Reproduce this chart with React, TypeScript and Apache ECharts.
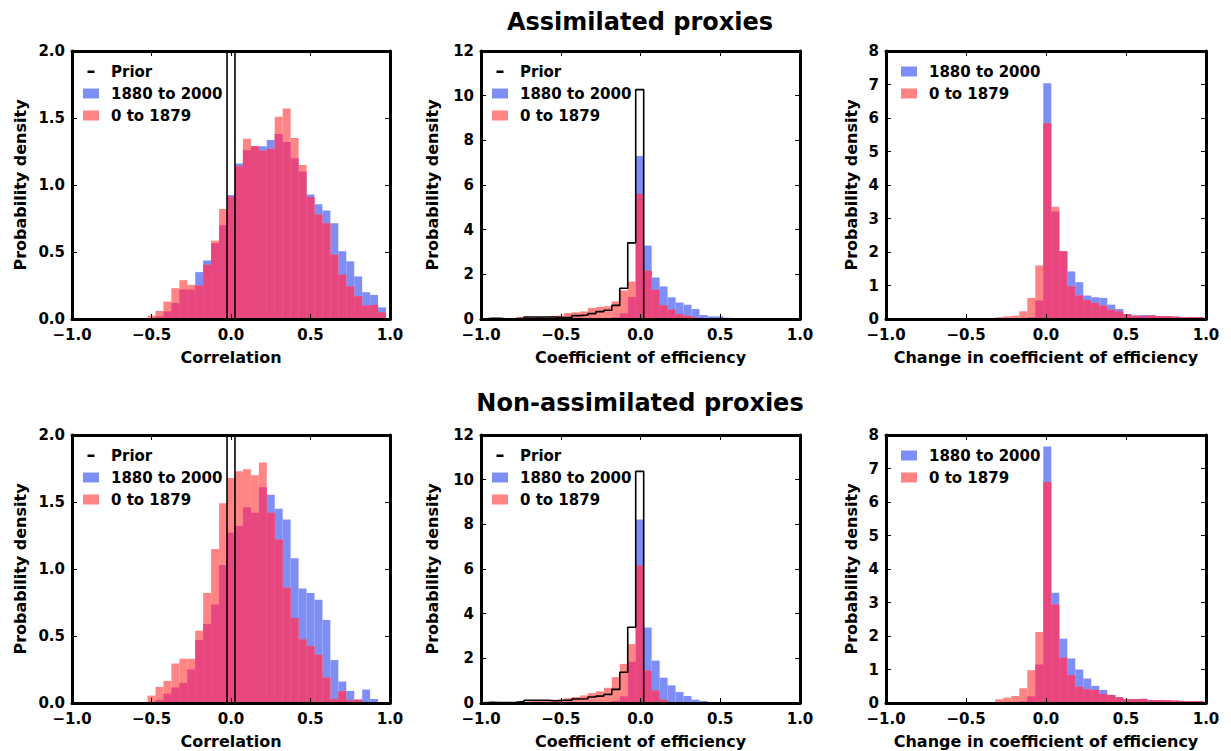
import React, { useEffect, useRef } from 'react';
import * as echarts from 'echarts';

const FONT = 'DejaVu Sans';
const BLUE = '#7e8ef7';
const RED = '#ff8484';
const MIX = '#e8467f';
const BIN_W = 0.05;

// ---------- Correlation (bins centred on -0.50 ... 0.95) ----------
const corrFirstEdge = -0.525;
const corrAssimModern = [0, 0.02, 0.057, 0.12, 0.22, 0.22, 0.35, 0.437, 0.566, 0.70, 0.925, 1.16, 1.26, 1.29, 1.29, 1.335, 1.38, 1.32, 1.20, 1.10, 0.93, 0.856, 0.81, 0.715, 0.506, 0.43, 0.318, 0.20, 0.18, 0.087];
const corrAssimPast = [0.025, 0.06, 0.13, 0.23, 0.29, 0.255, 0.25, 0.405, 0.585, 0.82, 0.915, 1.14, 1.345, 1.29, 1.255, 1.27, 1.51, 1.57, 1.35, 1.15, 0.91, 0.78, 0.715, 0.48, 0.33, 0.243, 0.17, 0.10, 0.105, 0.05];
const corrNonModern = [0, 0.022, 0.07, 0.116, 0.15, 0.25, 0.47, 0.59, 0.735, 1.03, 1.27, 1.32, 1.46, 1.42, 1.61, 1.555, 1.45, 1.37, 1.08, 0.855, 0.82, 0.77, 0.62, 0.32, 0.16, 0.09, 0.025, 0.10, 0.03, 0];
const corrNonPast = [0.055, 0.12, 0.165, 0.295, 0.33, 0.33, 0.54, 0.82, 1.15, 1.49, 1.68, 1.73, 1.745, 1.70, 1.795, 1.42, 1.22, 0.86, 0.635, 0.475, 0.425, 0.36, 0.19, 0.03, 0.087, 0.02, 0.025, 0, 0, 0];
const corrPriorFirstEdge = -0.025;
const corrAssimPrior = [25];
const corrNonPrior = [25];

// ---------- Coefficient of efficiency (first bin edge -0.98) ----------
const ceFirstEdge = -0.98;
const ceAssimModern = [0.03, 0.02, 0.01, 0.01, 0.01, 0.01, 0.01, 0.01, 0.01, 0.01, 0.01, 0.01, 0.02, 0.02, 0.03, 0.04, 0.08, 0.25, 0.98, 7.3, 3.29, 1.86, 1.46, 0.97, 0.74, 0.64, 0.45, 0.18, 0.12, 0.12, 0.06, 0.03, 0.02, 0.01, 0.01];
const ceAssimPast = [0.02, 0.01, 0.01, 0.03, 0.09, 0.07, 0.09, 0.09, 0.12, 0.15, 0.27, 0.30, 0.34, 0.49, 0.54, 0.57, 0.79, 1.28, 1.68, 5.6, 2.16, 1.31, 0.61, 0.42, 0.22, 0.15, 0.07, 0.03, 0.01, 0.01, 0, 0, 0, 0, 0];
const ceAssimPrior = [0.03, 0.03, 0.0, 0.01, 0.03, 0.09, 0.09, 0.09, 0.09, 0.06, 0.07, 0.15, 0.18, 0.24, 0.33, 0.39, 0.61, 1.38, 3.41, 10.27];
const ceNonModern = [0.06, 0.01, 0.01, 0.01, 0.01, 0.01, 0.01, 0.01, 0.01, 0.01, 0.01, 0.01, 0.01, 0.02, 0.02, 0.05, 0.1, 0.30, 1.85, 8.22, 3.38, 1.9, 1.13, 0.79, 0.49, 0.31, 0.15, 0.09, 0.04, 0.02, 0.01, 0.01, 0, 0, 0];
const ceNonPast = [0.02, 0.02, 0.02, 0.04, 0.07, 0.07, 0.09, 0.09, 0.1, 0.15, 0.21, 0.27, 0.34, 0.44, 0.52, 0.68, 1.16, 1.75, 2.64, 6.16, 1.45, 0.56, 0.15, 0.04, 0.01, 0, 0, 0, 0, 0, 0, 0, 0, 0, 0];
const ceNonPrior = [0.03, 0.02, 0.02, 0.03, 0.06, 0.12, 0.12, 0.12, 0.1, 0.12, 0.12, 0.18, 0.19, 0.27, 0.31, 0.385, 0.61, 1.38, 3.39, 10.37];

// ---------- Change in coefficient of efficiency (first bin edge -0.317) ----------
const dceFirstEdge = -0.317;
const dceAssimModern = [0, 0.01, 0.01, 0.02, 0.05, 0.55, 7.04, 3.21, 2.02, 1.42, 1.10, 0.70, 0.65, 0.63, 0.43, 0.30, 0.15, 0.10, 0.12, 0.11, 0.09, 0.09, 0.07, 0.05, 0.06, 0.06];
const dceAssimPast = [0.05, 0.08, 0.1, 0.23, 0.63, 1.6, 5.84, 3.35, 2.02, 0.975, 0.70, 0.56, 0.48, 0.40, 0.28, 0.23, 0.15, 0.10, 0.09, 0.11, 0.09, 0.08, 0.07, 0.06, 0.06, 0.06];
const dceNonModern = [0, 0.01, 0.02, 0.05, 0.2, 1.15, 7.66, 3.29, 1.92, 1.33, 1.0, 0.73, 0.51, 0.39, 0.24, 0.17, 0.12, 0.12, 0.12, 0.09, 0.09, 0.08, 0.07, 0.06, 0.06, 0.06];
const dceNonPast = [0.11, 0.16, 0.21, 0.44, 0.98, 2.12, 6.6, 2.94, 1.35, 0.83, 0.485, 0.41, 0.39, 0.27, 0.24, 0.17, 0.12, 0.12, 0.13, 0.09, 0.09, 0.08, 0.07, 0.06, 0.06, 0.06];

// ---------- text ----------
const titles = ['Assimilated proxies', 'Non-assimilated proxies'];
const xNames = ['Correlation', 'Coefficient of efficiency', 'Change in coefficient of efficiency'];
const yName = 'Probability density';
const legendPrior = 'Prior';
const legendModern = '1880 to 2000';
const legendPast = '0 to 1879';

type Panel = {
  first: number;
  modern: number[];
  past: number[];
  priorFirst?: number;
  prior?: number[];
  yMax: number;
  yInterval: number;
  yDecimals: number;
  xName: string;
  left: number;
  top: number;
  width: number;
  height: number;
  yNameGap: number;
  legendLeft: number;
  legendTop: number;
};

const ROW_TOP = [51, 435];
const COL_LEFT = [72, 481, 886];
const COL_W = [318, 319, 320];
const PH = 268;
const Y_GAPS = [44, 41, 27];
const LEG_LEFT = [83, 492, 901];
const LEG_TOP = [64, 448];

const panelData = [
  { first: corrFirstEdge, modern: corrAssimModern, past: corrAssimPast, priorFirst: corrPriorFirstEdge, prior: corrAssimPrior, yMax: 2, yInterval: 0.5, yDecimals: 1, xi: 0 },
  { first: ceFirstEdge, modern: ceAssimModern, past: ceAssimPast, priorFirst: ceFirstEdge, prior: ceAssimPrior, yMax: 12, yInterval: 2, yDecimals: 0, xi: 1 },
  { first: dceFirstEdge, modern: dceAssimModern, past: dceAssimPast, yMax: 8, yInterval: 1, yDecimals: 0, xi: 2 },
  { first: corrFirstEdge, modern: corrNonModern, past: corrNonPast, priorFirst: corrPriorFirstEdge, prior: corrNonPrior, yMax: 2, yInterval: 0.5, yDecimals: 1, xi: 0 },
  { first: ceFirstEdge, modern: ceNonModern, past: ceNonPast, priorFirst: ceFirstEdge, prior: ceNonPrior, yMax: 12, yInterval: 2, yDecimals: 0, xi: 1 },
  { first: dceFirstEdge, modern: dceNonModern, past: dceNonPast, yMax: 8, yInterval: 1, yDecimals: 0, xi: 2 },
];

const panels: Panel[] = panelData.map((d: any, i) => {
  const row = Math.floor(i / 3);
  const col = i % 3;
  return {
    ...d,
    xName: xNames[d.xi],
    left: COL_LEFT[col],
    top: ROW_TOP[row],
    width: COL_W[col],
    height: PH,
    yNameGap: Y_GAPS[col],
    legendLeft: LEG_LEFT[col],
    legendTop: LEG_TOP[row],
  };
});

const BOX_ICON = 'path://M0,0 L16,0 L16,10 L0,10 Z M23,10 L23,10';
const PRIOR_ICON = 'path://M0,0 L0,0 M4.5,4 L11.5,4 L11.5,6.5 L4.5,6.5 Z M23,10 L23,10';

const fmtX = (v: number) => (v < 0 ? '\u2212' + (-v).toFixed(1) : Math.abs(v).toFixed(1));

const binRows = (first: number, vals: number[]) =>
  vals.map((v, i) => [first + i * BIN_W, first + (i + 1) * BIN_W, v]);

const stepPoints = (first: number, vals: number[]) => {
  const pts: number[][] = [[first, 0]];
  vals.forEach((v, i) => {
    const x0 = first + i * BIN_W;
    pts.push([x0, v], [x0 + BIN_W, v]);
  });
  pts.push([first + vals.length * BIN_W, 0]);
  return pts;
};

const makeRender = (color: string) => (params: any, api: any) => {
  const v = api.value(2);
  if (!(v > 0)) return { type: 'group', children: [] };
  const p0 = api.coord([api.value(0), v]);
  const p1 = api.coord([api.value(1), 0]);
  const cs = params.coordSys;
  const top = Math.max(p0[1], cs.y);
  return {
    type: 'rect',
    shape: { x: p0[0], y: top, width: p1[0] - p0[0], height: p1[1] - top },
    style: { fill: color },
  };
};

const tickLabel = { fontFamily: FONT, fontWeight: 'bold' as const, fontSize: 15, color: '#000', lineHeight: 13 };
const nameStyle = { fontFamily: FONT, fontWeight: 'bold' as const, fontSize: 16, color: '#000' };
const frameLine = { show: true, onZero: false, lineStyle: { color: '#000', width: 3 } };
const innerTick = { show: true, inside: true, length: 5, lineStyle: { color: '#000', width: 1 } };

function buildOption() {
  const grid: any[] = [];
  const xAxis: any[] = [];
  const yAxis: any[] = [];
  const series: any[] = [];
  const legend: any[] = [];

  panels.forEach((p, g) => {
    grid.push({ left: p.left, top: p.top, width: p.width, height: p.height, containLabel: false, outerBoundsMode: 'none' });
    const xBase = { type: 'value', gridIndex: g, min: -1, max: 1, interval: 0.5, splitLine: { show: false }, axisLine: frameLine, axisTick: innerTick, z: 10 };
    xAxis.push({
      ...xBase,
      position: 'bottom',
      name: p.xName,
      nameLocation: 'middle',
      nameGap: 30,
      nameTextStyle: nameStyle,
      axisLabel: { ...tickLabel, margin: 9, formatter: fmtX, showMinLabel: true, showMaxLabel: true },
    });
    xAxis.push({ ...xBase, position: 'top', axisLabel: { show: false } });
    const yBase = { type: 'value', gridIndex: g, min: 0, max: p.yMax, interval: p.yInterval, splitLine: { show: false }, axisLine: frameLine, axisTick: innerTick, z: 10 };
    yAxis.push({
      ...yBase,
      position: 'left',
      name: yName,
      nameLocation: 'middle',
      nameGap: p.yNameGap,
      nameRotate: 90,
      nameTextStyle: nameStyle,
      axisLabel: { ...tickLabel, margin: 7, formatter: (v: number) => v.toFixed(p.yDecimals), showMinLabel: true, showMaxLabel: true },
    });
    yAxis.push({ ...yBase, position: 'right', axisLabel: { show: false } });

    const xi = 2 * g;
    const yi = 2 * g;
    const overlap = p.modern.map((v, i) => Math.min(v, p.past[i]));
    series.push({
      type: 'custom', name: legendModern, xAxisIndex: xi, yAxisIndex: yi, clip: true,
      itemStyle: { color: BLUE }, renderItem: makeRender(BLUE),
      encode: { x: [0, 1], y: 2 }, data: binRows(p.first, p.modern), z: 2,
    });
    series.push({
      type: 'custom', name: legendPast, xAxisIndex: xi, yAxisIndex: yi, clip: true,
      itemStyle: { color: RED }, renderItem: makeRender(RED),
      encode: { x: [0, 1], y: 2 }, data: binRows(p.first, p.past), z: 2,
    });
    series.push({
      type: 'custom', name: 'overlap', xAxisIndex: xi, yAxisIndex: yi, clip: true,
      itemStyle: { color: MIX }, renderItem: makeRender(MIX),
      encode: { x: [0, 1], y: 2 }, data: binRows(p.first, overlap), z: 2,
    });
    const legData: any[] = [];
    if (p.prior) {
      series.push({
        type: 'line', name: legendPrior, xAxisIndex: xi, yAxisIndex: yi, clip: true,
        showSymbol: false, symbol: 'none', silent: true, z: 3,
        itemStyle: { color: '#000' },
        lineStyle: { color: '#000', width: 1.6 },
        data: stepPoints(p.priorFirst as number, p.prior),
      });
      legData.push({ name: legendPrior, icon: PRIOR_ICON, itemStyle: { color: '#000', borderWidth: 0 } });
    }
    legData.push({ name: legendModern, icon: BOX_ICON, itemStyle: { color: BLUE, borderWidth: 0 } });
    legData.push({ name: legendPast, icon: BOX_ICON, itemStyle: { color: RED, borderWidth: 0 } });
    legend.push({
      left: p.legendLeft, top: p.legendTop, orient: 'vertical', padding: 0,
      itemWidth: 23, itemHeight: 10, itemGap: 7, selectedMode: false,
      textStyle: { fontFamily: FONT, fontWeight: 'bold', fontSize: 15, color: '#000', lineHeight: 15 },
      data: legData,
    });
  });

  return {
    animation: false,
    backgroundColor: '#fff',
    textStyle: { fontFamily: FONT },
    grid, xAxis, yAxis, series, legend,
    graphic: [
      { type: 'text', x: 640, y: 22, z: 20, style: { text: titles[0], fontFamily: FONT, fontWeight: 'bold', fontSize: 24, fill: '#000', align: 'center', verticalAlign: 'middle' } },
      { type: 'text', x: 640, y: 403, z: 20, style: { text: titles[1], fontFamily: FONT, fontWeight: 'bold', fontSize: 24, fill: '#000', align: 'center', verticalAlign: 'middle' } },
    ],
  };
}

export default function App() {
  const ref = useRef<HTMLDivElement>(null);
  useEffect(() => {
    if (!ref.current) return;
    const chart = echarts.init(ref.current, undefined, { renderer: 'svg' });
    chart.setOption(buildOption() as any);
    return () => chart.dispose();
  }, []);
  return <div ref={ref} style={{ position: 'fixed', left: 0, top: 0, width: 1231, height: 751, background: '#fff' }} />;
}
